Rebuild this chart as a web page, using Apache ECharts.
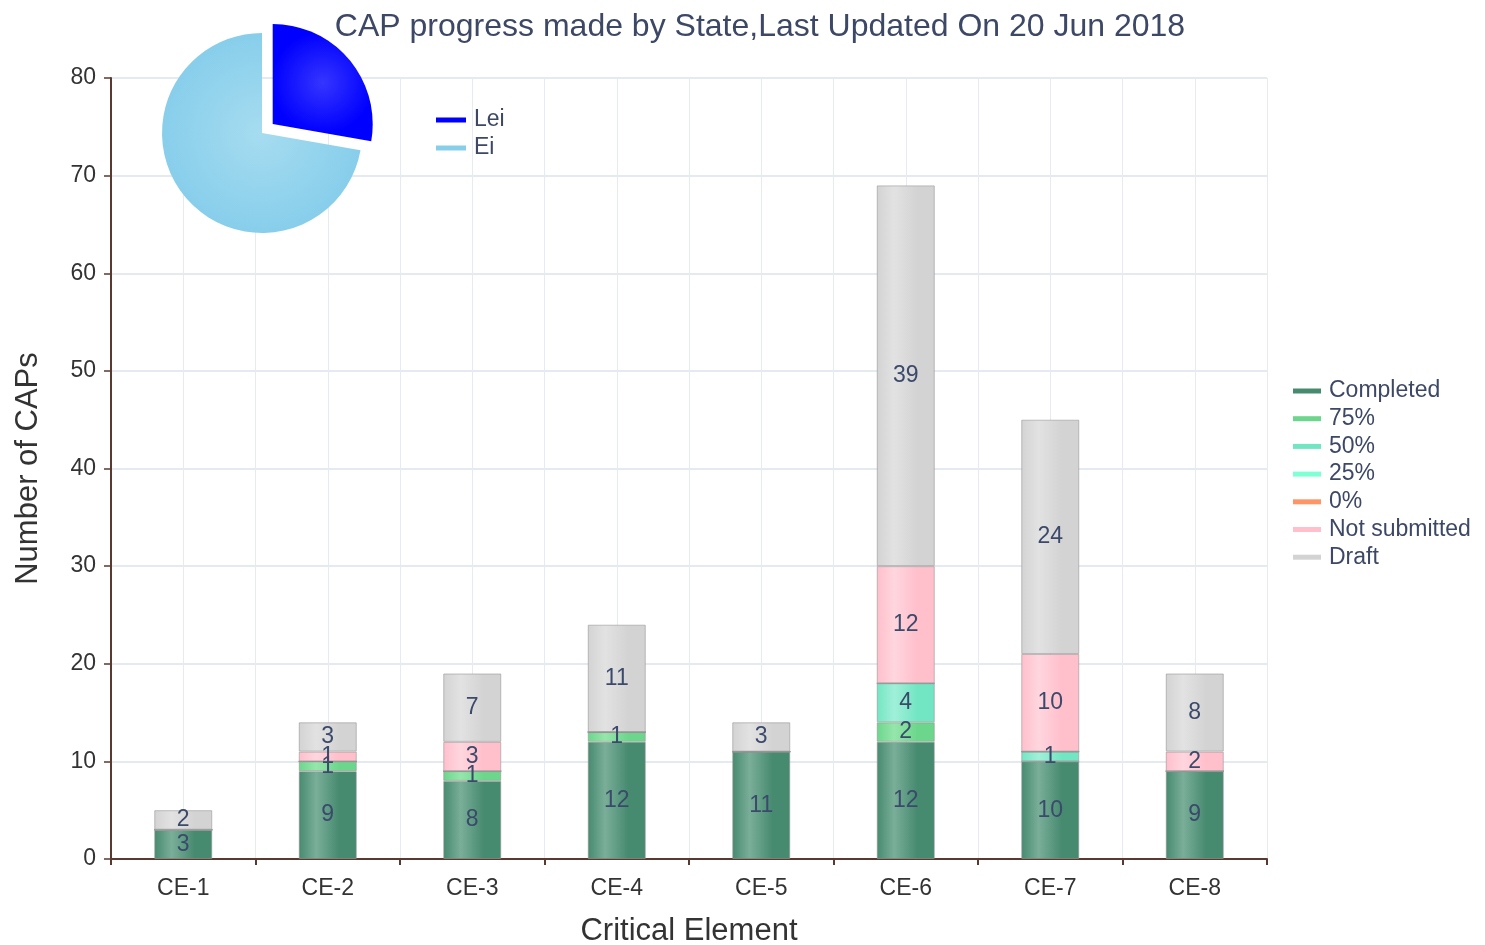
<!DOCTYPE html>
<html><head><meta charset="utf-8">
<script src="https://cdn.jsdelivr.net/npm/echarts@6/dist/echarts.min.js"></script>
<style>html,body{margin:0;padding:0;background:#fff}#c{width:1485px;height:945px}</style>
</head><body><div id="c"></div>
<script>
const categories = ['CE-1','CE-2','CE-3','CE-4','CE-5','CE-6','CE-7','CE-8'];
const completed    = [3, 9, 8, 12, 11, 12, 10, 9];
const pct75        = [0, 1, 1, 1, 0, 2, 0, 0];
const pct50        = [0, 0, 0, 0, 0, 4, 1, 0];
const pct25        = [0, 0, 0, 0, 0, 0, 0, 0];
const pct0         = [0, 0, 0, 0, 0, 0, 0, 0];
const notSubmitted = [0, 1, 3, 0, 0, 12, 10, 2];
const draft        = [2, 3, 7, 11, 3, 39, 24, 8];
const yTicks = [0, 10, 20, 30, 40, 50, 60, 70, 80];
const pieNames = ['Lei', 'Ei'];
const pieValues = [58, 151];

const FONT = 'Liberation Sans, Arial';
const seriesDefs = [
  {name:'Completed', data:completed, c:'#468a70', l:'#7aae98'},
  {name:'75%', data:pct75, c:'#6cd68c', l:'#95e6ab'},
  {name:'50%', data:pct50, c:'#72e6c2', l:'#a0f0d8'},
  {name:'25%', data:pct25, c:'#7fffd4', l:'#b0ffe6'},
  {name:'0%', data:pct0, c:'#ff9466', l:'#ffb894'},
  {name:'Not submitted', data:notSubmitted, c:'#ffbfcb', l:'#ffd6de'},
  {name:'Draft', data:draft, c:'#d3d3d3', l:'#e2e2e2'}
];
function grad(c, l){
  return new echarts.graphic.LinearGradient(0,0,1,0,[
    {offset:0, color:c},{offset:0.3, color:l},{offset:0.7, color:c},{offset:1, color:c}]);
}
const barSeries = seriesDefs.map(s => ({
  name: s.name, type:'bar', stack:'all', barWidth:58, xAxisIndex:0, yAxisIndex:0,
  data: s.data,
  itemStyle:{color: grad(s.c, s.l), borderColor:'rgba(150,150,150,0.6)', borderWidth:1},
  label:{show:true, position:'inside', color:'#3b4a6b', fontSize:23, fontFamily:FONT,
    formatter: p => p.value > 0 ? String(p.value) : ''},
  emphasis:{disabled:true}
}));
const pieColors = ['#0000ff', '#87ceeb'];
const pieLights = ['#3535ff', '#a6dcf0'];
const pieSeries = {
  type:'pie', radius:[0, 100], center:[262, 133], startAngle:90, clockwise:true,
  selectedMode:'single', selectedOffset:14, label:{show:false}, labelLine:{show:false},
  emphasis:{disabled:true}, z:10,
  data: pieNames.map((n,i) => ({name:n, value:pieValues[i], selected: i===0,
    itemStyle:{color: new echarts.graphic.RadialGradient(0.5,0.5,0.6,[
      {offset:0, color:pieLights[i]},{offset:0.85, color:pieColors[i]},{offset:1, color:pieColors[i]}])}}))
};
const chart = echarts.init(document.getElementById('c'), null, {renderer:'canvas'});
chart.setOption({
  animation:false,
  title:{text:'CAP progress made by State,Last Updated On 20 Jun 2018', left:755, top:6, textAlign:'center',
    textStyle:{fontSize:32, fontWeight:'normal', color:'#3d4866', fontFamily:FONT}},
  grid:{left:111, right:218, top:78, bottom:86, containLabel:false, outerBoundsMode:'none'},
  legend:[
    {orient:'vertical', left:1288, top:374, itemWidth:28, itemHeight:5, itemGap:3.7, icon:'rect',
      textStyle:{fontSize:23, lineHeight:24, color:'#3d4866', fontFamily:FONT, padding:[0,0,0,3]},
      selectedMode:false,
      data: seriesDefs.map(s => ({name:s.name, itemStyle:{color:s.c, borderWidth:0}}))},
    {orient:'vertical', left:431, top:103, itemWidth:30, itemHeight:5, itemGap:4, icon:'rect',
      textStyle:{fontSize:23, lineHeight:24, color:'#3d4866', fontFamily:FONT, padding:[0,0,0,3]},
      selectedMode:false,
      data: pieNames.map((n,i) => ({name:n, itemStyle:{color:pieColors[i], borderWidth:0}}))}
  ],
  xAxis:[
    {type:'category', data:categories, boundaryGap:true,
      name:'Critical Element', nameLocation:'middle', nameGap:57,
      nameTextStyle:{fontSize:31, color:'#333', fontFamily:FONT},
      axisLine:{lineStyle:{color:'#5a3a30', width:2}},
      axisTick:{show:true, length:6, lineStyle:{color:'#5a3a30', width:2}},
      axisLabel:{fontSize:23, color:'#333', margin:18, fontFamily:FONT},
      splitLine:{show:false}},
    {type:'value', min:0, max:16, interval:1, show:true, position:'bottom',
      axisLine:{show:false}, axisTick:{show:false}, axisLabel:{show:false},
      splitLine:{show:true, lineStyle:{color:'#e6eaf1', width:1}}}
  ],
  yAxis:{type:'value', min:yTicks[0], max:yTicks[yTicks.length-1], interval:10,
    name:'Number of CAPs', nameLocation:'middle', nameGap:67, nameRotate:90,
    nameTextStyle:{fontSize:31, color:'#333', fontFamily:FONT},
    axisLine:{show:true, lineStyle:{color:'#5a3a30', width:2}},
    axisTick:{show:true, length:7, lineStyle:{color:'#5a3a30', width:1.5}},
    axisLabel:{fontSize:23, color:'#333', margin:15, fontFamily:FONT},
    splitLine:{show:true, lineStyle:{color:'#dde3ee', width:1.5}}},
  series: [...barSeries, pieSeries]
});
</script></body></html>
